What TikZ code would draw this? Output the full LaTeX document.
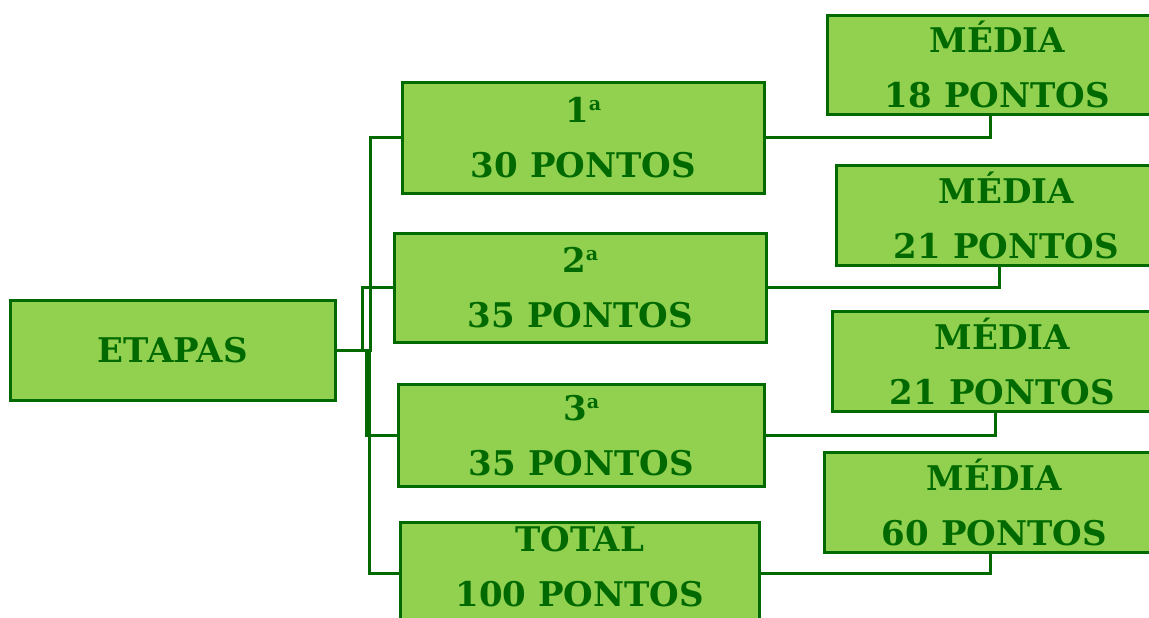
\documentclass[tikz,border=0pt]{standalone}
\usepackage{fontspec}
\setmainfont{DejaVu Serif}
\definecolor{boxfill}{RGB}{146,208,80}
\definecolor{darkgr}{RGB}{0,106,0}
\newcommand{\ordA}{\raisebox{12pt}{\fontsize{19}{19}\selectfont a}}
\begin{document}
\begin{tikzpicture}[x=1pt,y=-1pt,
  box/.style={draw=darkgr, fill=boxfill, line width=2.6pt, anchor=north west,
    inner sep=0pt, align=center, text=darkgr,
    font=\fontsize{34}{55}\selectfont\bfseries},
  conn/.style={draw=darkgr, line width=2.8pt}]
\useasboundingbox (0,0) rectangle (1149,618);
\begin{scope}
\clip (0,0) rectangle (1149,618);
\node[box, minimum width=325pt, minimum height=100pt] (etapas) at (9,299) {ETAPAS};
\node[box, minimum width=362pt, minimum height=111pt] (b1) at (401,81) {1\ordA\\30 PONTOS};
\node[box, minimum width=372pt, minimum height=109pt] (b2) at (393,232) {2\ordA\\35 PONTOS};
\node[box, minimum width=366pt, minimum height=102pt] (b3) at (397,383) {3\ordA\\35 PONTOS};
\node[box, minimum width=359pt, minimum height=102pt] (b4) at (399,521) {TOTAL\\100 PONTOS\rule[-13pt]{0pt}{13pt}};
\node[box, minimum width=340pt, minimum height=99pt] (m1) at (826,14) {MÉDIA\\18 PONTOS};
\node[box, minimum width=340pt, minimum height=100pt] (m2) at (835,164) {MÉDIA\\21 PONTOS};
\node[box, minimum width=340pt, minimum height=100pt] (m3) at (831,310) {MÉDIA\\21 PONTOS};
\node[box, minimum width=340pt, minimum height=100pt] (m4) at (823,451) {MÉDIA\\60 PONTOS};
\draw[conn] (etapas.east) -- ++(34,0) |- (b1.west);
\draw[conn] (etapas.east) -- ++(26,0) |- (b2.west);
\draw[conn] (etapas.east) -- ++(30,0) |- (b3.west);
\draw[conn] (etapas.east) -- ++(33,0) |- (b4.west);
\draw[conn] (b1.east) -| ([xshift=-7pt]m1.south);
\draw[conn] (b2.east) -| ([xshift=-7pt]m2.south);
\draw[conn] (b3.east) -| ([xshift=-7pt]m3.south);
\draw[conn] (b4.east) -| ([xshift=-4pt]m4.south);
\end{scope}
\end{tikzpicture}
\end{document}
